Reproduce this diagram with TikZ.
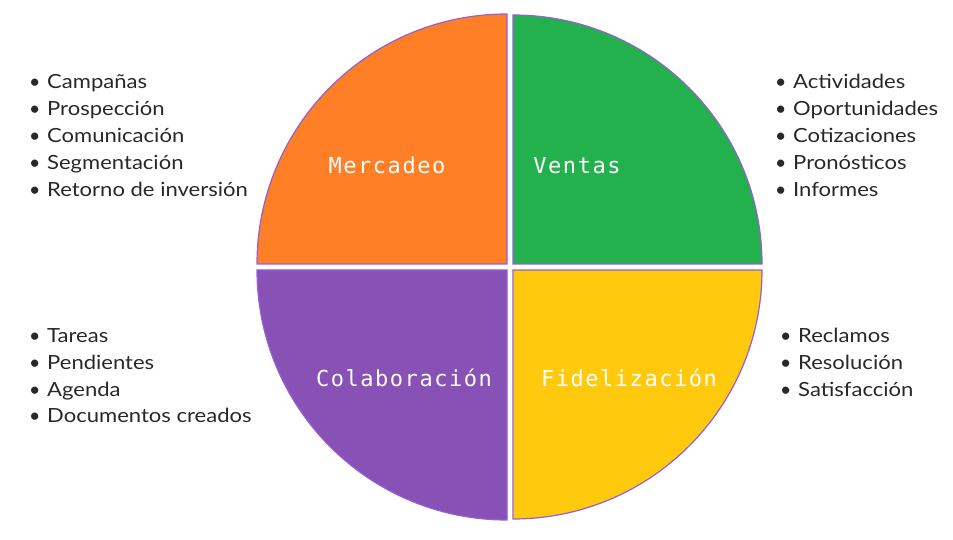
\documentclass[tikz,border=0pt]{standalone}
\usepackage{fontspec}
\setmainfont{Lato}
\newfontfamily\quadfont[LetterSpace=7]{DejaVu Sans Mono}
\usepackage{tikz}
\usetikzlibrary{positioning}
\definecolor{crmorange}{RGB}{255, 127, 39}
\definecolor{crmgreen}{RGB}{34, 177, 76}
\definecolor{crmpurple}{RGB}{135, 81, 181}
\definecolor{crmyellow}{RGB}{255, 201, 14}
\definecolor{crmedge}{RGB}{150, 95, 210}
\definecolor{crmtext}{RGB}{40, 40, 40}
\newcommand{\listentry}[1]{\makebox[18pt][l]{\textbullet}\scalebox{1.13}[1]{#1}}

\begin{document}
\begin{tikzpicture}[x=1pt, y=1pt,
    quad/.style={draw=crmedge, line width=1.2pt},
    quadlabel/.style={anchor=base, inner sep=0pt, text=white, font=\quadfont\fontsize{22}{26}\selectfont},
    item/.style={anchor=base west, inner sep=0pt, text=crmtext, font=\fontsize{19.5}{23}\selectfont}]
    \useasboundingbox (0,0) rectangle (953,540);

    % four quarters of the wheel
    \filldraw[quad, fill=crmorange] (507,276) -- ++(0,250) arc[start angle=90, end angle=180, radius=250] -- cycle;
    \filldraw[quad, fill=crmgreen] (513,276) -- ++(249,0) arc[start angle=0, end angle=90, radius=249] -- cycle;
    \filldraw[quad, fill=crmpurple] (507,270) -- ++(-250,0) arc[start angle=180, end angle=270, radius=250] -- cycle;
    \filldraw[quad, fill=crmyellow] (513,270) -- ++(0,-249) arc[start angle=270, end angle=360, radius=249] -- cycle;

    \node[quadlabel] (mercadeo) at (387,366) {Mercadeo};
    \node[quadlabel] (ventas) at (577,366) {Ventas};
    \node[quadlabel] (colaboracion) at (404,153) {Colaboración};
    \node[quadlabel] (fidelizacion) at (629,153) {Fidelización};

    % bullet lists
    \foreach \txt [count=\i] in {Campañas, Prospección, Comunicación, Segmentación, Retorno de inversión} {
        \node[item] (mer\i) at (29,{478-27*\i}) {\listentry{\txt}};
    }
    \foreach \txt [count=\i] in {Actividades, Oportunidades, Cotizaciones, Pronósticos, Informes} {
        \node[item] (ven\i) at (775,{478-27*\i}) {\listentry{\txt}};
    }
    \foreach \txt [count=\i] in {Tareas, Pendientes, Agenda, Documentos creados} {
        \node[item] (col\i) at (29,{224-26.7*\i}) {\listentry{\txt}};
    }
    \foreach \txt [count=\i] in {Reclamos, Resolución, Satisfacción} {
        \node[item] (fid\i) at (780,{224-26.7*\i}) {\listentry{\txt}};
    }
\end{tikzpicture}
\end{document}
